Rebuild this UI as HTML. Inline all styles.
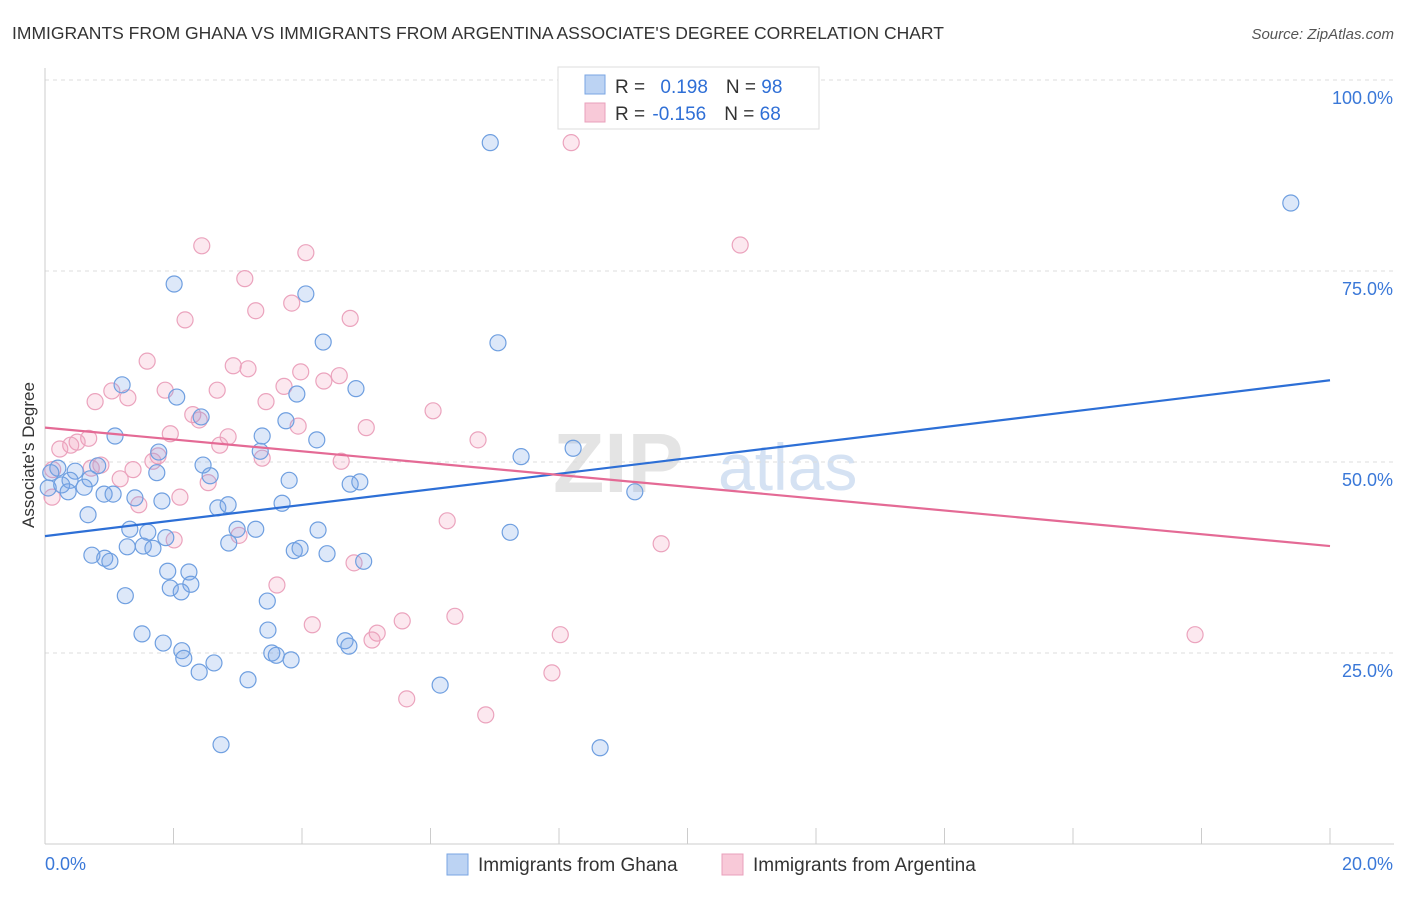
<!DOCTYPE html>
<html><head><meta charset="utf-8"><style>
body{margin:0;background:#fff;font-family:"Liberation Sans",sans-serif;}
svg text{font-family:"Liberation Sans",sans-serif;}
</style></head><body>
<svg id="chart" width="1406" height="892" xmlns="http://www.w3.org/2000/svg">
<text x="12" y="39" font-size="17.5" fill="#333">IMMIGRANTS FROM GHANA VS IMMIGRANTS FROM ARGENTINA ASSOCIATE'S DEGREE CORRELATION CHART</text>
<text x="1394" y="39" font-size="15" fill="#555" font-style="italic" text-anchor="end">Source: ZipAtlas.com</text>
<g>
<text x="553" y="492" font-size="84" fill="#e4e4e4" font-family="Liberation Serif" font-weight="bold">ZIP</text>
<text x="718" y="490" font-size="66" fill="#d5e2f3">atlas</text>
</g>
<g id="grid"></g>
<g id="axes"></g>
<g id="pts"></g>
<g id="trends"></g>
<text transform="translate(34,455) rotate(-90)" font-size="17" fill="#333" text-anchor="middle">Associate's Degree</text>
<g>
<rect x="558" y="67" width="261" height="62" fill="#fff" stroke="#ddd"/>
<rect x="585" y="75" width="20" height="19" fill="#bcd3f3" stroke="#7aa6e3"/>
<rect x="585" y="103" width="20" height="19" fill="#f8c9d8" stroke="#e9a0bb"/>
<text x="615" y="93" font-size="19" fill="#333">R = <tspan fill="#2f6fd6" dx="10">0.198</tspan><tspan fill="#333" dx="18">N = </tspan><tspan fill="#2f6fd6">98</tspan></text>
<text x="615" y="120" font-size="19" fill="#333">R = <tspan fill="#2f6fd6" dx="2">-0.156</tspan><tspan fill="#333" dx="18">N = </tspan><tspan fill="#2f6fd6">68</tspan></text>
</g>
<g>
<rect x="447" y="854" width="21" height="21" fill="#bcd3f3" stroke="#7aa6e3"/>
<text x="478" y="871" font-size="19" fill="#333">Immigrants from Ghana</text>
<rect x="722" y="854" width="21" height="21" fill="#f8c9d8" stroke="#e9a0bb"/>
<text x="753" y="871" font-size="19" fill="#333">Immigrants from Argentina</text>
</g>
</svg>
<script>
const xTickLabels=["0.0%","20.0%"];
const yTicks=[25,50,75,100];
const yTickLabels=["25.0%","50.0%","75.0%","100.0%"];
const ghanaX=[6.93,19.39,2.01,4.06,4.33,7.05,1.20,3.92,4.84,2.05,2.43,3.75,1.09,3.38,4.23,1.77,8.22,7.41,2.46,3.35,0.20,0.47,0.82,0.09,0.39,0.70,0.05,0.26,0.36,0.61,0.92,1.06,1.40,1.74,2.57,3.80,4.75,4.90,9.18,1.82,2.69,2.85,3.69,0.67,1.32,1.60,1.88,2.99,3.28,4.25,7.24,2.86,1.53,1.68,1.28,0.73,0.93,1.01,3.88,3.97,4.39,4.96,1.91,2.24,2.27,1.95,2.12,1.25,3.46,1.51,3.47,4.67,4.73,1.84,2.13,2.16,3.53,3.60,3.83,2.63,2.40,3.16,6.15,2.74,8.64];
const ghanaY=[91.8,83.9,73.3,72.0,65.7,65.6,60.1,58.9,59.6,58.5,55.9,55.4,53.4,53.4,52.9,51.3,51.8,50.7,49.6,51.4,49.2,48.8,49.5,48.6,47.6,47.8,46.6,47.0,46.1,46.7,45.8,45.8,45.3,48.6,48.2,47.6,47.1,47.4,46.1,44.9,44.0,44.4,44.6,43.1,41.2,40.8,40.1,41.2,41.2,41.1,40.8,39.4,39.0,38.7,38.9,37.8,37.4,37.0,38.4,38.7,38.0,37.0,35.7,35.6,34.0,33.5,33.0,32.5,31.8,27.5,28.0,26.6,25.9,26.3,25.3,24.3,25.0,24.7,24.1,23.7,22.5,21.5,20.8,13.0,12.6];
const argX=[8.19,2.44,10.82,4.06,3.11,3.84,3.28,2.18,4.75,1.59,2.93,3.16,3.98,4.58,3.72,4.34,1.87,2.68,1.04,0.78,1.29,3.44,2.30,2.40,3.94,6.04,5.00,1.95,2.85,0.68,0.50,0.40,0.23,2.72,6.74,1.76,3.38,4.61,1.68,0.87,1.37,0.72,0.12,1.17,2.54,2.10,0.11,1.46,6.26,3.02,2.01,9.59,4.81,3.61,6.38,4.16,5.56,5.17,5.09,8.02,17.90,7.89,5.63,6.86];
const argY=[91.8,78.3,78.4,77.4,74.0,70.8,69.8,68.6,68.8,63.2,62.6,62.2,61.8,61.3,59.9,60.6,59.4,59.4,59.3,57.9,58.4,57.9,56.2,55.5,54.7,56.7,54.5,53.7,53.3,53.1,52.6,52.2,51.7,52.2,52.9,50.8,50.5,50.1,50.1,49.6,49.0,49.2,49.0,47.8,47.3,45.4,45.4,44.4,42.3,40.4,39.8,39.3,36.8,33.9,29.8,28.7,29.2,27.6,26.7,27.4,27.4,22.4,19.0,16.9];
const ghanaTrend=[40.3,60.7];
const argTrend=[54.5,39.0];
const NS="http://www.w3.org/2000/svg";
function sx(v){return 45+v/20*1285;}
function sy(v){return 844-v*7.64;}
function mk(tag,attrs,parent){const e=document.createElementNS(NS,tag);for(const k in attrs)e.setAttribute(k,attrs[k]);parent.appendChild(e);return e;}
const grid=document.getElementById('grid'),axes=document.getElementById('axes'),pts=document.getElementById('pts'),tr=document.getElementById('trends');
yTicks.forEach((t,i)=>{
 const l=mk('line',{x1:45,x2:1394,y1:sy(t),y2:sy(t),stroke:'#ddd','stroke-dasharray':'4,4'},grid);
 
 
 const tx=mk('text',{x:1393,y:sy(t)+24,'font-size':18,fill:'#3a78d8','text-anchor':'end'},axes);
 tx.textContent=yTickLabels[i];
 
 
});
mk('line',{x1:45,x2:45,y1:68,y2:844,stroke:'#ccc'},axes);
mk('line',{x1:45,x2:1394,y1:844,y2:844,stroke:'#ccc'},axes);
for(let i=0;i<=10;i++){const t=mk('line',{x1:sx(i*2),x2:sx(i*2),y1:828,y2:844,stroke:'#ccc'},axes);
 
 }
const xl0=mk('text',{x:45,y:870,'font-size':18,fill:'#3a78d8'},axes);xl0.textContent=xTickLabels[0];


const xl1=mk('text',{x:1393,y:870,'font-size':18,fill:'#3a78d8','text-anchor':'end'},axes);xl1.textContent=xTickLabels[1];


argX.forEach((x,i)=>{const c=mk('circle',{cx:sx(x),cy:sy(argY[i]),r:8,fill:'rgba(240,150,180,0.22)',stroke:'#eba3bd','stroke-width':1.2},pts);
 
 });
ghanaX.forEach((x,i)=>{const c=mk('circle',{cx:sx(x),cy:sy(ghanaY[i]),r:8,fill:'rgba(120,165,230,0.25)',stroke:'#6f9fe0','stroke-width':1.2},pts);
 
 });
const l1=mk('line',{x1:sx(0),y1:sy(ghanaTrend[0]),x2:sx(20),y2:sy(ghanaTrend[1]),stroke:'#2d6fd6','stroke-width':2.2},tr);


const l2=mk('line',{x1:sx(0),y1:sy(argTrend[0]),x2:sx(20),y2:sy(argTrend[1]),stroke:'#e46a95','stroke-width':2.2},tr);


</script>
</body></html>
